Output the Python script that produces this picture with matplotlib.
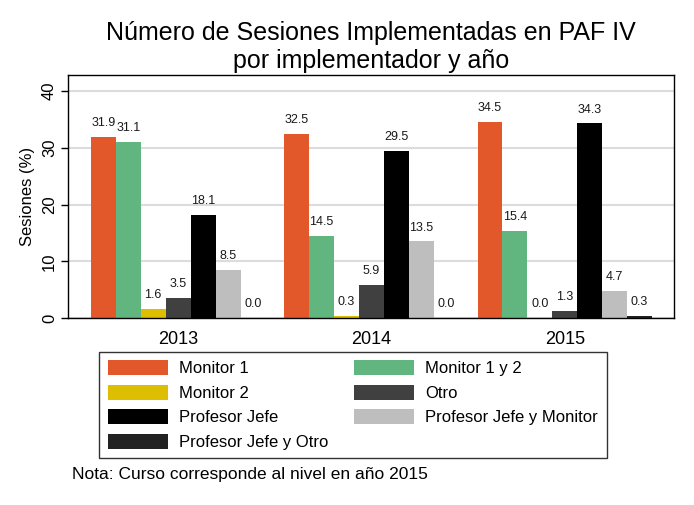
import numpy as np
import matplotlib

matplotlib.use("Agg")
import matplotlib.pyplot as plt
from matplotlib.patches import Patch

plt.rcParams["font.family"] = ["Liberation Sans", "DejaVu Sans"]

years = ["2013", "2014", "2015"]
series = [
    "Monitor 1",
    "Monitor 1 y 2",
    "Monitor 2",
    "Otro",
    "Profesor Jefe",
    "Profesor Jefe y Monitor",
    "Profesor Jefe y Otro",
]
values = [
    [31.9, 32.5, 34.5],
    [31.1, 14.5, 15.4],
    [1.6, 0.3, 0.0],
    [3.5, 5.9, 1.3],
    [18.1, 29.5, 34.3],
    [8.5, 13.5, 4.7],
    [0.0, 0.0, 0.3],
]
colors = ["#E3582A", "#60B67E", "#DDBE00", "#404040", "#000000", "#BEBEBE", "#222222"]

fig = plt.figure(figsize=(6.94, 5.05), dpi=100)
ax = fig.add_axes([68 / 694, 1 - 318 / 505, 606 / 694, (318 - 74.7) / 505])

x = np.arange(len(years))
width = 0.129
n = len(series)
for i, (name, vals, col) in enumerate(zip(series, values, colors)):
    pos = x + (i - (n - 1) / 2) * width
    bars = ax.bar(pos, vals, width=width, color=col, label=name, zorder=2)
    for b, v in zip(bars, vals):
        ax.annotate(f"{v:.1f}", (b.get_x() + b.get_width() / 2, v),
                    xytext=(0, 10), textcoords="offset points",
                    ha="center", va="center", fontsize=9, color="#1a1a1a")

ax.set_xlim(-0.57, 2.565)
ax.set_ylim(0, 42.9)
ax.set_yticks([0, 10, 20, 30, 40])
ax.set_xticks(x)
ax.set_xticklabels(years, fontsize=13)
ax.tick_params(axis="x", length=0, pad=9)
ax.tick_params(axis="y", length=5, width=1, labelsize=12, labelrotation=90, pad=3)
for lab in ax.get_yticklabels():
    lab.set_va("center")
ax.grid(axis="y", color="#DCDCDC", linewidth=1.5, zorder=0)
ax.set_axisbelow(True)
for s in ax.spines.values():
    s.set_linewidth(1)
    s.set_color("black")
ax.set_ylabel("Sesiones (%)", fontsize=12, labelpad=5)

fig.text(371 / 694, 1 - 47 / 505, "Número de Sesiones Implementadas en PAF IV\npor implementador y año",
         ha="center", va="center", fontsize=18, linespacing=1.2)

order = [0, 2, 4, 6, 1, 3, 5]
handles = [Patch(facecolor=colors[k], edgecolor="none") for k in order]
labels = [series[k] for k in order]
leg = fig.legend(handles, labels, ncol=2, loc="upper center",
                 bbox_to_anchor=(353 / 694, 1 - 352 / 505), fontsize=12,
                 frameon=True, fancybox=False, edgecolor="black",
                 handlelength=3.6, handleheight=1.0, handletextpad=0.7,
                 columnspacing=1.5, labelspacing=0.5, borderpad=0.5,
                 borderaxespad=0)
leg.get_frame().set_linewidth(1)

fig.text(72 / 694, 1 - 474 / 505, "Nota: Curso corresponde al nivel en año 2015",
         ha="left", va="center", fontsize=12.5)

fig.savefig("out.png", dpi=100)
